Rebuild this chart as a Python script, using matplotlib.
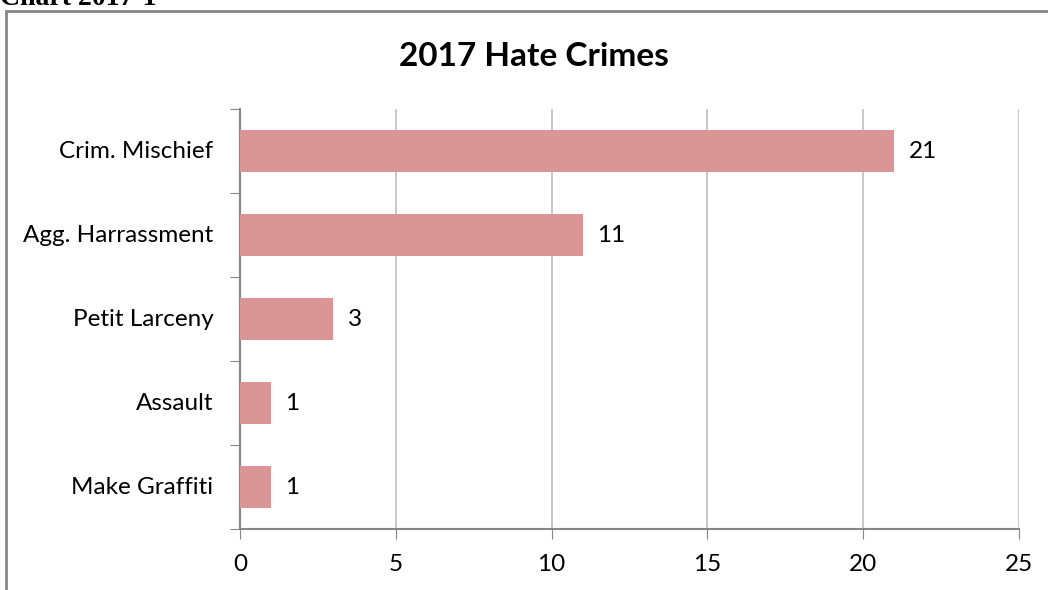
import matplotlib
matplotlib.use("Agg")
from matplotlib import pyplot as plt
from matplotlib.patches import Rectangle

# data, top to bottom as in the chart
categories = ["Crim. Mischief", "Agg. Harrassment", "Petit Larceny", "Assault", "Make Graffiti"]
counts = [21, 11, 3, 1, 1]

bar_color = "#d99694"
axis_gray = "#868686"
grid_gray = "#bfbfbf"

plt.rcParams["font.family"] = ["Lato", "DejaVu Sans"]

fig = plt.figure(figsize=(10.48, 5.90), dpi=100)
ax = fig.add_axes([240/1048, 1 - 529/590, (1019-240)/1048, (529-109)/590])

# reverse so first category is at the top
ypos = list(range(len(categories)))[::-1]
ax.barh(ypos, counts, height=0.5, color=bar_color, zorder=3)
for y, v in zip(ypos, counts):
    ax.text(v + 0.45, y, str(v), va="center", ha="left", fontsize=17.5)

ax.set_xlim(0, 25)
ax.set_ylim(-0.5, len(categories) - 0.5)
ax.set_xticks([0, 5, 10, 15, 20, 25])
ax.tick_params(axis="x", labelsize=17.5, length=7, color=axis_gray, pad=11)
ax.grid(axis="x", color=grid_gray, linewidth=1.2, zorder=0)

# category labels between boundary ticks
ax.set_yticks([i + 0.5 for i in range(-1, len(categories))])
ax.set_yticklabels([])
ax.tick_params(axis="y", length=7, color=axis_gray)
for y, name in zip(ypos, categories):
    ax.text(-0.85, y, name, ha="right", va="center", fontsize=17.5)

for side in ["top", "right"]:
    ax.spines[side].set_visible(False)
for side in ["left", "bottom"]:
    ax.spines[side].set_color(axis_gray)
    ax.spines[side].set_linewidth(1.5)

fig.text(534/1048, 1 - 56/590, "2017 Hate Crimes", ha="center", va="center",
         fontsize=24, fontweight="bold")

# outer chart frame and cut-off caption
fig.patches.append(Rectangle((6/1048, -0.1), 1.2, 1 - 11/590 + 0.1, transform=fig.transFigure,
                             fill=False, edgecolor=axis_gray, linewidth=2))
fig.text(0, 1 + 14/590, "Chart 2017-1", ha="left", va="top", fontsize=20,
         fontweight="bold", family="Liberation Serif")

fig.savefig("out.png", dpi=100)
